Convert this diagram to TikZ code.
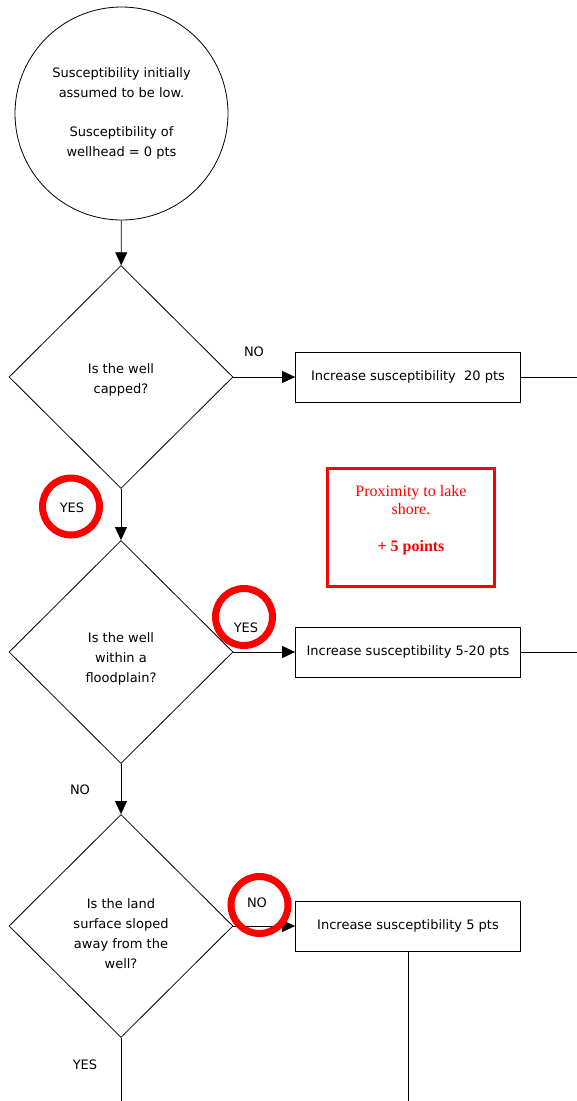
\documentclass[tikz,border=0pt]{standalone}
\usepackage{fontspec}
\setmainfont{DejaVu Sans}
\newfontfamily\notefont{Liberation Serif}
\usetikzlibrary{shapes.geometric,arrows.meta}
\tikzset{
    decision/.style={draw, diamond, minimum width=224pt, minimum height=223pt, inner sep=0pt, align=center},
    stepbox/.style={draw, rectangle, minimum width=225pt, minimum height=50pt, inner sep=0pt},
    flow/.style={-{Triangle[length=13pt,width=12pt]}},
    ring/.style={draw=red, line width=7pt, circle, minimum size=57pt, inner sep=0pt},
    notebox/.style={draw=red, line width=3pt, text=red, minimum width=167pt, minimum height=118pt, align=center, font=\notefont\fontsize{16}{18}\selectfont}
}
\begin{document}
            \begin{tikzpicture}[x=1pt, y=-1pt, line width=0.8pt, font=\fontsize{13}{20}\selectfont]
                \useasboundingbox (0,0) rectangle (577,1101);
                \node[draw, circle, minimum size=213pt, inner sep=0pt, align=center] (start) at (121.5,113.5) {Susceptibility initially\\assumed to be low.\\[19pt]Susceptibility of\\wellhead = 0 pts};
                \node[decision, text height=36pt] (capped) at (121,377) {Is the well\\capped?};
                \node[decision, text height=64pt] (flood) at (121,652) {Is the well\\within a\\floodplain?};
                \node[decision, text height=86pt] (slope) at (121,926) {Is the land\\surface sloped\\away from the\\well?};
                \node[stepbox] (inc20) at (408,377) {Increase susceptibility\ \ 20 pts};
                \node[stepbox] (inc520) at (408,652) {Increase susceptibility 5-20 pts};
                \node[stepbox] (inc5) at (408,926) {Increase susceptibility 5 pts};
                \node[notebox] (lake) at (411,527.5) {Proximity to lake\\shore.\\[19pt]\textbf{+ 5 points}\\[1pt]\mbox{}};
                \coordinate (out20) at (577,377);
                \coordinate (out520) at (577,652);
                \coordinate (out5) at (408,1101);
                \coordinate (outslope) at (121,1101);
                \draw[flow] (start) -- (capped);
                \draw[flow] (capped) -- (flood);
                \draw[flow] (flood) -- (slope);
                \draw (slope) -- (outslope);
                \draw[flow] (capped) -- (inc20);
                \draw[flow] (flood) -- (inc520);
                \draw[flow] (slope) -- (inc5);
                \draw (inc20) -- (out20);
                \draw (inc520) -- (out520);
                \draw (inc5) -- (out5);
                \node[ring] (yesmark1) at (71,506.5) {};
                \node[ring] (yesmark2) at (244,617) {};
                \node[ring] (nomark3) at (259.5,905) {};
                \node (no1) at (254,352) {NO};
                \node (yes1) at (72,508) {YES};
                \node (yes2) at (246,628) {YES};
                \node (no2) at (80,790) {NO};
                \node (no3) at (257,903) {NO};
                \node (yes3) at (85,1065) {YES};
            \end{tikzpicture}
\end{document}
